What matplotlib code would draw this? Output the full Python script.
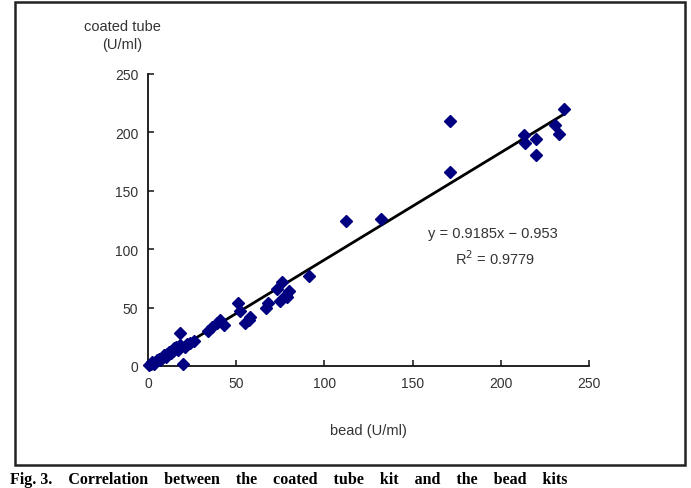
import matplotlib
matplotlib.use("Agg")
import matplotlib.pyplot as plt
from matplotlib.patches import Rectangle

bead = [0.5, 1.5, 2.5, 3.5, 5, 6, 7, 8, 9, 10, 11, 12, 13, 14, 15, 16, 17, 18, 18,
        20, 21, 22, 24, 26, 34, 36, 39, 41, 43, 51, 52, 55, 57, 58, 67, 68, 73, 75,
        76, 78, 79, 80, 91, 112, 132, 171, 171, 213, 214, 220, 220, 231, 233, 236]
coated = [1, 2, 3, 2, 5, 6, 5, 7, 9, 8, 10, 12, 11, 13, 15, 16, 14, 18, 28,
          2, 16, 19, 20, 21, 30, 33, 37, 39, 35, 54, 47, 37, 39, 42, 50, 54, 66, 56,
          72, 61, 59, 64, 77, 124, 126, 210, 166, 198, 191, 194, 181, 206, 199, 220]
slope = 0.9185
intercept = -0.953
xticks = [0, 50, 100, 150, 200, 250]
yticks = [0, 50, 100, 150, 200, 250]

plt.rcParams['font.family'] = ['Liberation Sans', 'DejaVu Sans']

fig = plt.figure(figsize=(6.91, 4.89), dpi=100)
W, H = 691, 489
ax = fig.add_axes([148 / W, 1 - 367 / H, 441 / W, 292 / H])

xs = [min(bead), max(bead)]
ax.plot(xs, [slope * x + intercept for x in xs], color='black', lw=2, zorder=2)
ax.plot(bead, coated, linestyle='none', marker='D', markersize=6,
        color='#000080', markeredgecolor='#000080', zorder=3, clip_on=False)

ax.set_xlim(0, 250)
ax.set_ylim(0, 250)
ax.set_xticks(xticks)
ax.set_yticks(yticks)
for s in ['top', 'right']:
    ax.spines[s].set_visible(False)
for s in ['left', 'bottom']:
    ax.spines[s].set_linewidth(1.3)
    ax.spines[s].set_color('#111111')
ax.tick_params(direction='in', length=4, width=1.1, colors='#111111',
               labelcolor='#333333', labelsize=10, pad=7)

ax.set_xlabel('bead (U/ml)', fontsize=10.5, color='#333333', labelpad=24)
fig.text(122 / W, 1 - 36 / H, 'coated tube\n(U/ml)', ha='center', va='center',
         fontsize=10.5, color='#333333', linespacing=1.4)

ax.text(195.5, 114, 'y = 0.9185x \u2212 0.953', ha='center', va='center',
        fontsize=10.5, color='#333333')
ax.text(197, 93, 'R$^2$ = 0.9779', ha='center', va='center',
        fontsize=10.5, color='#333333')

fig.patches.append(Rectangle((15 / W, 1 - 466 / H), 670 / W, 463 / H,
                             transform=fig.transFigure, fill=False,
                             edgecolor='#222222', linewidth=1.8))

fig.text(10 / W, 1 / H,
         'Fig. 3.    Correlation    between    the    coated    tube    kit    and    the    bead    kits',
         ha='left', va='bottom', fontsize=11.5, fontweight='bold',
         family=['Liberation Serif', 'DejaVu Serif'])

fig.savefig('out.png', dpi=100)
